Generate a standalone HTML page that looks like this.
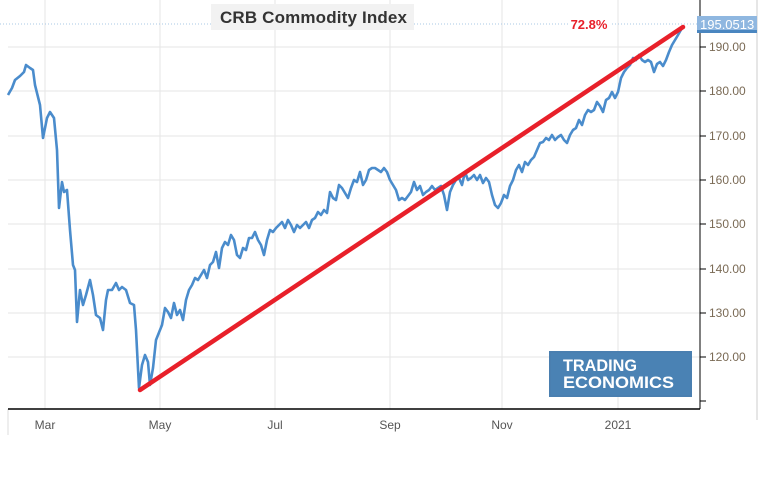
<!DOCTYPE html>
<html><head><style>
body{margin:0;background:#fff;font-family:"Liberation Sans",Arial,sans-serif}
</style></head><body>
<svg width="765" height="490" xmlns="http://www.w3.org/2000/svg" font-family="Liberation Sans, Arial, sans-serif">
<rect width="765" height="490" fill="#fff"/>
<g stroke="#e6e6e6" stroke-width="1">
<line x1="8" y1="47" x2="700" y2="47"/><line x1="8" y1="91" x2="700" y2="91"/>
<line x1="8" y1="136" x2="700" y2="136"/><line x1="8" y1="180" x2="700" y2="180"/>
<line x1="8" y1="224" x2="700" y2="224"/><line x1="8" y1="269" x2="700" y2="269"/>
<line x1="8" y1="313" x2="700" y2="313"/><line x1="8" y1="357" x2="700" y2="357"/>
<line x1="45" y1="0" x2="45" y2="409"/><line x1="160" y1="0" x2="160" y2="409"/>
<line x1="275" y1="0" x2="275" y2="409"/><line x1="390" y1="0" x2="390" y2="409"/>
<line x1="502" y1="0" x2="502" y2="409"/><line x1="618" y1="0" x2="618" y2="409"/>
</g>
<line x1="757" y1="0" x2="757" y2="420" stroke="#ccc"/>
<line x1="8" y1="409" x2="8" y2="435" stroke="#ddd"/>
<line x1="8" y1="409" x2="700" y2="409" stroke="#000" stroke-width="1.5"/>
<line x1="700" y1="0" x2="700" y2="409" stroke="#000" stroke-width="1"/>
<g stroke="#000"><line x1="700" y1="47" x2="706" y2="47"/><line x1="700" y1="91" x2="706" y2="91"/><line x1="700" y1="136" x2="706" y2="136"/><line x1="700" y1="180" x2="706" y2="180"/><line x1="700" y1="224" x2="706" y2="224"/><line x1="700" y1="269" x2="706" y2="269"/><line x1="700" y1="313" x2="706" y2="313"/><line x1="700" y1="357" x2="706" y2="357"/><line x1="700" y1="401" x2="706" y2="401"/></g>
<g font-size="12" fill="#7a6a55">
<text x="709" y="51">190.00</text><text x="709" y="95">180.00</text>
<text x="709" y="140">170.00</text><text x="709" y="184">160.00</text>
<text x="709" y="228">150.00</text><text x="709" y="273">140.00</text>
<text x="709" y="317">130.00</text><text x="709" y="361">120.00</text>
</g>
<g font-size="12" fill="#555" text-anchor="middle">
<text x="45" y="429">Mar</text><text x="160" y="429">May</text><text x="275" y="429">Jul</text>
<text x="390" y="429">Sep</text><text x="502" y="429">Nov</text><text x="618" y="429">2021</text>
</g>
<line x1="0" y1="24" x2="700" y2="24" stroke="#a9c8e6" stroke-dasharray="1,2" stroke-width="1"/>
<rect x="568" y="16" width="42" height="16" fill="#fff"/>
<text x="589" y="29" font-size="13" font-weight="bold" fill="#e8202a" text-anchor="middle">72.8%</text>
<rect x="697" y="16" width="60" height="17" fill="#8fb7e0"/>
<rect x="697" y="30" width="60" height="3" fill="#4a86c0"/>
<text x="700" y="29" font-size="13" fill="#fff">195.0513</text>
<rect x="211" y="4" width="203" height="26" fill="#f2f2f2"/>
<text x="220" y="23" font-size="17" font-weight="bold" fill="#333" textLength="187">CRB Commodity Index</text>
<polyline fill="none" stroke="#4a8ccc" stroke-width="2.6" stroke-linejoin="round" points="8,95 12,88 15,80 20,76 24,72 26,65 30,68 33,70 35,85 40,105 43,138 47,118 50,112 54,118 57,150 59,208 62,182 64,192 67,190 70,230 73,265 75,270 77,322 80,290 83,305 86,295 90,280 93,295 96,315 100,318 103,330 106,300 108,290 112,290 116,283 119,290 122,287 126,290 130,303 134,305 136,330 139,388 142,365 145,355 148,362 150,385 153,368 156,340 160,330 162,325 165,308 168,312 171,318 174,303 177,315 180,310 183,320 186,300 189,290 192,285 195,278 198,280 201,275 204,270 207,278 210,265 213,262 216,252 219,268 222,248 225,242 228,245 231,235 234,240 237,255 240,258 243,248 246,250 249,238 252,238 255,232 258,240 261,245 264,255 267,240 270,230 273,232 276,228 279,225 282,222 285,228 288,220 291,225 294,232 297,225 300,228 303,225 306,222 309,228 312,220 315,218 318,212 321,215 324,210 327,213 330,192 333,198 336,200 339,185 342,188 345,193 348,198 351,188 354,180 357,182 360,172 363,185 366,180 369,170 372,168 375,168 378,170 381,172 384,168 387,172 390,180 393,185 396,190 399,200 402,198 405,200 408,196 411,192 414,182 417,190 420,186 423,195 426,192 429,190 432,186 435,190 438,188 441,186 444,195 447,210 450,192 453,185 456,180 459,178 462,185 465,172 468,180 471,178 474,175 477,180 480,175 483,183 486,178 489,182 492,195 495,205 498,208 501,203 504,195 507,198 510,186 513,180 516,170 519,165 522,172 525,162 528,165 531,160 534,157 537,150 540,143 543,142 546,138 549,140 552,135 555,140 558,137 561,135 564,140 567,143 570,135 573,130 576,128 579,120 582,125 585,115 588,110 591,112 594,110 597,102 600,106 603,112 606,100 609,98 612,92 615,98 618,92 621,78 624,72 627,68 630,65 633,58 636,60 639,55 642,60 645,62 648,60 651,62 654,72 657,64 660,62 663,66 666,60 669,52 672,45 675,40 678,35 682,28"/>
<line x1="140" y1="390" x2="683" y2="27" stroke="#e8202a" stroke-width="4.5" stroke-linecap="round"/>
<rect x="549" y="351" width="143" height="46" fill="#4a7fb0"/>
<rect x="551" y="353" width="139" height="42" fill="#4a82b4"/>
<text x="563" y="371" font-size="17" font-weight="bold" fill="#fff" textLength="74" lengthAdjust="spacingAndGlyphs">TRADING</text>
<text x="563" y="388" font-size="17" font-weight="bold" fill="#fff" textLength="111" lengthAdjust="spacingAndGlyphs">ECONOMICS</text>
</svg>
</body></html>
